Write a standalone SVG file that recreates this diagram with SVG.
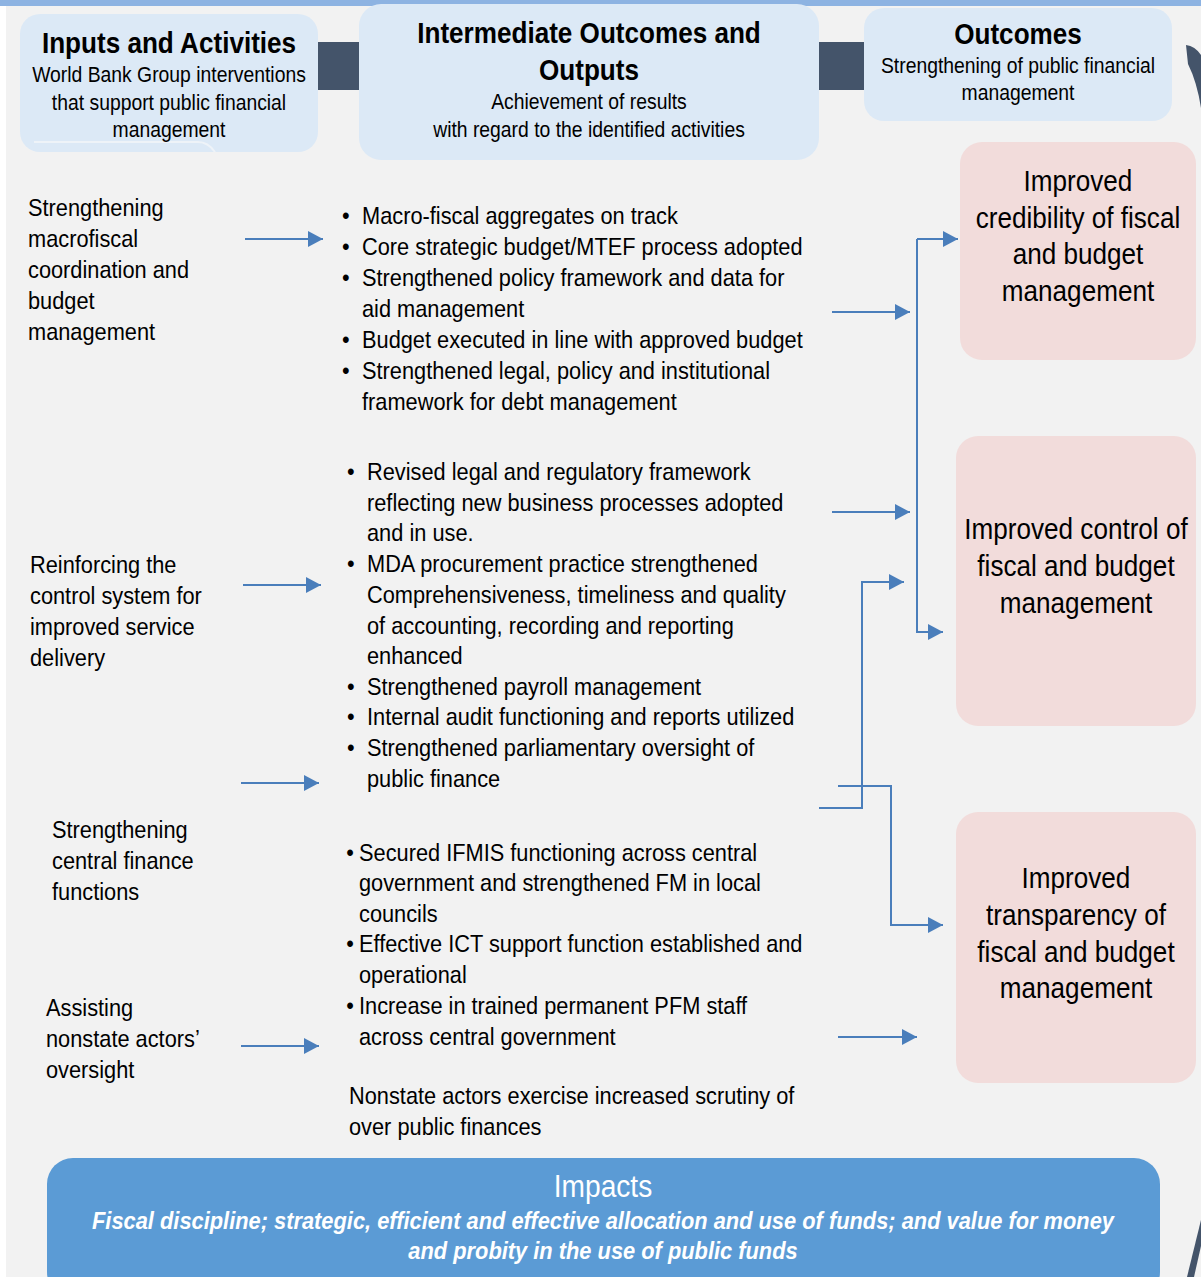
<svg xmlns="http://www.w3.org/2000/svg" width="1201" height="1277" viewBox="0 0 1201 1277">
<style>
text{font-family:"Liberation Sans",Arial,sans-serif;fill:#000}
.t{font-size:24px}
.hb{font-weight:bold;font-size:29px;text-anchor:middle}
.hs{font-size:21.5px;text-anchor:middle}
.o{font-size:29px;text-anchor:middle}
.hdr{fill:#dce9f6}
.out{fill:#f2dcdb}
.dark{fill:#44546a}
.c{fill:none;stroke:#4a7ebb;stroke-width:2}
.w{fill:#ffffff}
</style>
<defs>
<marker id="ah" markerUnits="userSpaceOnUse" markerWidth="16" markerHeight="16" viewBox="0 0 16 16" refX="15" refY="8" orient="auto">
<path d="M0,0 L15,8 L0,16 Z" fill="#4a7ebb"/>
</marker>
</defs>
<rect x="0" y="0" width="1201" height="1277" fill="#ffffff"/>
<rect x="6" y="0" width="1195" height="1277" fill="#f2f2f2"/>
<rect x="0" y="0" width="1201" height="6" fill="#8db3e2"/>

<g id="flow-bars">
<rect class="dark" x="318" y="42" width="42" height="48"/>
<rect class="dark" x="819" y="42" width="46" height="48"/>
<path class="dark" d="M1186,45 Q1195,46 1201,55 V108 Q1197,82 1188,64 Z"/>
<path class="dark" d="M1187,1277 L1201,1220 V1246 L1194,1277 Z"/>
</g>

<g id="header-inputs">
<rect class="hdr" x="20" y="14" width="298" height="138" rx="20"/>
<path d="M34,142 H198 Q208,142 215,152" fill="none" stroke="#eef3f8" stroke-width="2"/>
<g transform="translate(169,0) scale(0.9,1)">
<text class="hb" x="0" y="53">Inputs and Activities</text>
<text class="hs" x="0" y="82">World Bank Group interventions</text>
<text class="hs" x="0" y="110">that support public financial</text>
<text class="hs" x="0" y="137">management</text>
</g>
</g>

<g id="header-intermediate">
<rect class="hdr" x="359" y="4" width="460" height="156" rx="22"/>
<g transform="translate(589,0) scale(0.9,1)">
<text class="hb" x="0" y="43">Intermediate Outcomes and</text>
<text class="hb" x="0" y="80">Outputs</text>
<text class="hs" x="0" y="109">Achievement of results</text>
<text class="hs" x="0" y="137">with regard to the identified activities</text>
</g>
</g>

<g id="header-outcomes">
<rect class="hdr" x="864" y="8" width="308" height="113" rx="20"/>
<g transform="translate(1018,0) scale(0.9,1)">
<text class="hb" x="0" y="44">Outcomes</text>
<text class="hs" x="0" y="73">Strengthening of public financial</text>
<text class="hs" x="0" y="100">management</text>
</g>
</g>

<g id="input-macrofiscal" transform="translate(28,0) scale(0.908,1)">
<text class="t" x="0" y="216">Strengthening</text>
<text class="t" x="0" y="247">macrofiscal</text>
<text class="t" x="0" y="278">coordination and</text>
<text class="t" x="0" y="309">budget</text>
<text class="t" x="0" y="340">management</text>
</g>

<g id="input-control" transform="translate(30,0) scale(0.908,1)">
<text class="t" x="0" y="573">Reinforcing the</text>
<text class="t" x="0" y="604">control system for</text>
<text class="t" x="0" y="635">improved service</text>
<text class="t" x="0" y="666">delivery</text>
</g>

<g id="input-central" transform="translate(52,0) scale(0.908,1)">
<text class="t" x="0" y="838">Strengthening</text>
<text class="t" x="0" y="869">central finance</text>
<text class="t" x="0" y="900">functions</text>
</g>

<g id="input-nonstate" transform="translate(46,0) scale(0.908,1)">
<text class="t" x="0" y="1016">Assisting</text>
<text class="t" x="0" y="1047">nonstate actors’</text>
<text class="t" x="0" y="1078">oversight</text>
</g>

<g id="outputs-macrofiscal" transform="translate(362,0) scale(0.908,1)">
<text class="t" x="-22" y="224">•</text><text class="t" x="0" y="224">Macro-fiscal aggregates on track</text>
<text class="t" x="-22" y="255">•</text><text class="t" x="0" y="255">Core strategic budget/MTEF process adopted</text>
<text class="t" x="-22" y="286">•</text><text class="t" x="0" y="286">Strengthened policy framework and data for</text>
<text class="t" x="0" y="317">aid management</text>
<text class="t" x="-22" y="348">•</text><text class="t" x="0" y="348">Budget executed in line with approved budget</text>
<text class="t" x="-22" y="379">•</text><text class="t" x="0" y="379">Strengthened legal, policy and institutional</text>
<text class="t" x="0" y="410">framework for debt management</text>
</g>

<g id="outputs-control" transform="translate(367,0) scale(0.908,1)">
<text class="t" x="-22" y="480">•</text><text class="t" x="0" y="480">Revised legal and regulatory framework</text>
<text class="t" x="0" y="511">reflecting new business processes adopted</text>
<text class="t" x="0" y="541">and in use.</text>
<text class="t" x="-22" y="572">•</text><text class="t" x="0" y="572">MDA procurement practice strengthened</text>
<text class="t" x="0" y="603">Comprehensiveness, timeliness and quality</text>
<text class="t" x="0" y="634">of accounting, recording and reporting</text>
<text class="t" x="0" y="664">enhanced</text>
<text class="t" x="-22" y="695">•</text><text class="t" x="0" y="695">Strengthened payroll management</text>
<text class="t" x="-22" y="725">•</text><text class="t" x="0" y="725">Internal audit functioning and reports utilized</text>
<text class="t" x="-22" y="756">•</text><text class="t" x="0" y="756">Strengthened parliamentary oversight of</text>
<text class="t" x="0" y="787">public finance</text>
</g>

<g id="outputs-central" transform="translate(359,0) scale(0.908,1)">
<text class="t" x="-14" y="861">•</text><text class="t" x="0" y="861">Secured IFMIS functioning across central</text>
<text class="t" x="0" y="891">government and strengthened FM in local</text>
<text class="t" x="0" y="922">councils</text>
<text class="t" x="-14" y="952">•</text><text class="t" x="0" y="952">Effective ICT support function established and</text>
<text class="t" x="0" y="983">operational</text>
<text class="t" x="-14" y="1014">•</text><text class="t" x="0" y="1014">Increase in trained permanent PFM staff</text>
<text class="t" x="0" y="1045">across central government</text>
</g>

<g id="outputs-nonstate" transform="translate(349,0) scale(0.908,1)">
<text class="t" x="0" y="1104">Nonstate actors exercise increased scrutiny of</text>
<text class="t" x="0" y="1135">over public finances</text>
</g>

<g id="outcome-credibility">
<rect class="out" x="960" y="142" width="236" height="218" rx="22"/>
<g transform="translate(1078,0) scale(0.9,1)">
<text class="o" x="0" y="191">Improved</text>
<text class="o" x="0" y="228">credibility of fiscal</text>
<text class="o" x="0" y="264">and budget</text>
<text class="o" x="0" y="301">management</text>
</g>
</g>

<g id="outcome-control">
<rect class="out" x="956" y="436" width="240" height="290" rx="22"/>
<g transform="translate(1076,0) scale(0.9,1)">
<text class="o" x="0" y="539">Improved control of</text>
<text class="o" x="0" y="576">fiscal and budget</text>
<text class="o" x="0" y="613">management</text>
</g>
</g>

<g id="outcome-transparency">
<rect class="out" x="956" y="812" width="240" height="271" rx="22"/>
<g transform="translate(1076,0) scale(0.9,1)">
<text class="o" x="0" y="888">Improved</text>
<text class="o" x="0" y="925">transparency of</text>
<text class="o" x="0" y="962">fiscal and budget</text>
<text class="o" x="0" y="998">management</text>
</g>
</g>

<g id="impacts">
<rect x="47" y="1158" width="1113" height="140" rx="26" fill="#5b9bd5"/>
<g transform="translate(603,0) scale(0.908,1)">
<text class="w" x="0" y="1197" font-size="31" text-anchor="middle">Impacts</text>
</g>
<g transform="translate(603,0) scale(0.91,1)">
<text class="w" x="0" y="1229" font-size="24" font-weight="bold" font-style="italic" text-anchor="middle">Fiscal discipline; strategic, efficient and effective allocation and use of funds; and value for money</text>
<text class="w" x="0" y="1259" font-size="24" font-weight="bold" font-style="italic" text-anchor="middle">and probity in the use of public funds</text>
</g>
</g>

<g id="connectors">
<path class="c" d="M245,239 H323" marker-end="url(#ah)"/>
<path class="c" d="M243,585 H321" marker-end="url(#ah)"/>
<path class="c" d="M241,783 H319" marker-end="url(#ah)"/>
<path class="c" d="M241,1046 H319" marker-end="url(#ah)"/>
<path class="c" d="M832,312 H910" marker-end="url(#ah)"/>
<path class="c" d="M832,512 H910" marker-end="url(#ah)"/>
<path class="c" d="M917,239 V632 H943" marker-end="url(#ah)"/>
<path class="c" d="M917,239 H958" marker-end="url(#ah)"/>
<path class="c" d="M819,808 H862 V582 H904" marker-end="url(#ah)"/>
<path class="c" d="M838,786 H891 V925 H943" marker-end="url(#ah)"/>
<path class="c" d="M838,1037 H917" marker-end="url(#ah)"/>
</g>
</svg>
